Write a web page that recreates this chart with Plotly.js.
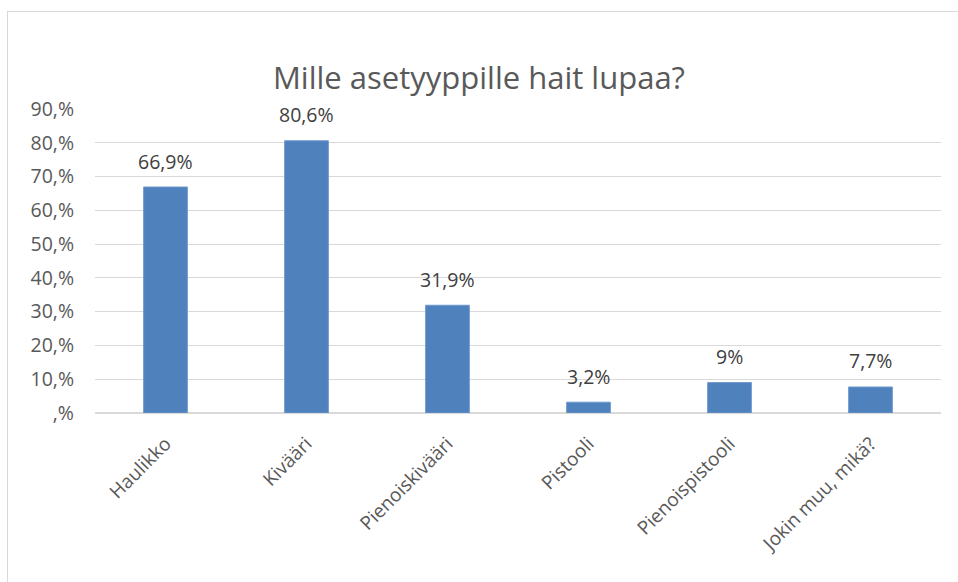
<!DOCTYPE html>
<html>
<head>
<meta charset="utf-8">
<script src="https://cdn.plot.ly/plotly-3.0.1.min.js"></script>
<style>
html,body{margin:0;padding:0;background:#fff;}
#chart{width:958px;height:582px;position:absolute;left:0;top:0;}
#frame{position:absolute;left:7px;top:11px;width:960px;height:590px;border-left:1.5px solid #d9d9d9;border-top:1.5px solid #d9d9d9;pointer-events:none;}
</style>
</head>
<body>
<div id="chart"></div>
<div id="frame"></div>
<script>
const categories = ["Haulikko", "Kivääri", "Pienoiskivääri", "Pistooli", "Pienoispistooli", "Jokin muu, mikä?"];
const values = [66.9, 80.6, 31.9, 3.2, 9, 7.7];
const valueLabels = ["66,9%", "80,6%", "31,9%", "3,2%", "9%", "7,7%"];
const yTickVals = [0, 10, 20, 30, 40, 50, 60, 70, 80, 90];
const yTickText = [",%", "10,%", "20,%", "30,%", "40,%", "50,%", "60,%", "70,%", "80,%", "90,%"];
const chartTitle = "Mille asetyyppille hait lupaa?";

const font = "'Open Sans', sans-serif";

const annotations = categories.map((c, i) => ({
  x: c, y: values[i], xref: "x", yref: "y",
  text: valueLabels[i], showarrow: false,
  yanchor: "middle", xanchor: "center", yshift: 26,
  font: {family: font, size: 19.5, color: "#404040"}
}));

Plotly.newPlot("chart", [{
  type: "bar",
  x: categories,
  y: values,
  marker: {color: "#4F81BD", line: {color: "#6f98cc", width: 1}},
  width: 0.31,
  hoverinfo: "none"
}], {
  width: 958, height: 582,
  margin: {l: 95, r: 17, t: 109, b: 169},
  paper_bgcolor: "#fff", plot_bgcolor: "#fff",
  showlegend: false,
  annotations: annotations,
  title: {text: chartTitle, x: 0.5, xanchor: "center", y: 1 - 78/582, yanchor: "middle",
          font: {family: font, size: 31, color: "#595959"}},
  xaxis: {
    tickangle: -45, tickfont: {family: font, size: 19, color: "#595959"},
    ticklabelstandoff: 15,
    showgrid: false, showline: false, ticks: "", zeroline: false, fixedrange: true
  },
  yaxis: {
    range: [0, 90], tickvals: yTickVals, ticktext: yTickText,
    tickfont: {family: font, size: 19.5, color: "#595959"},
    ticklabelstandoff: 20,
    showgrid: true, gridcolor: "#d9d9d9", gridwidth: 1.2,
    zeroline: true, zerolinecolor: "#d9d9d9", zerolinewidth: 1.5,
    ticks: "", ticklen: 0, showline: false, fixedrange: true
  }
}, {displayModeBar: false, staticPlot: true});
</script>
</body>
</html>
